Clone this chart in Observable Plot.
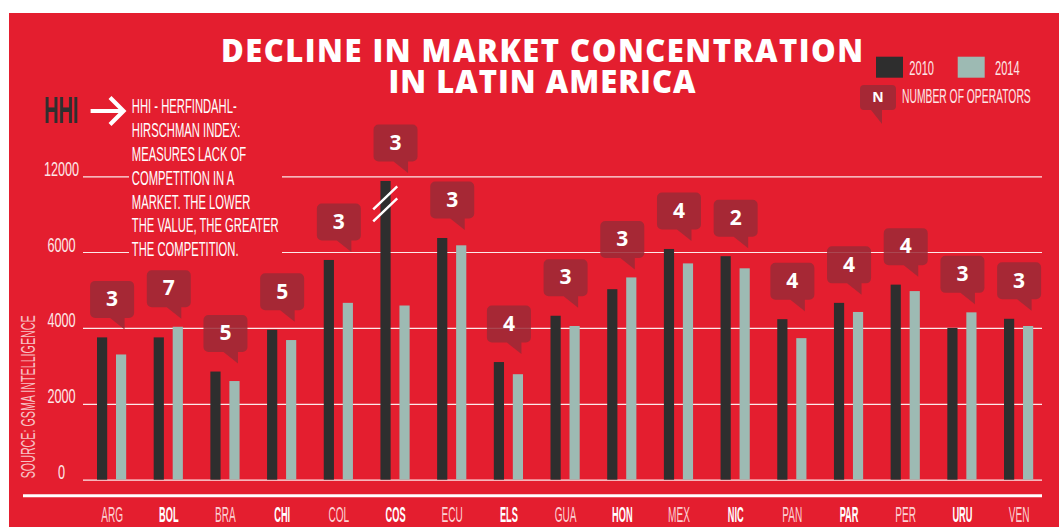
<!DOCTYPE html>
<html><head><meta charset="utf-8">
<script src="https://cdn.jsdelivr.net/npm/d3@7"></script>
<script src="https://cdn.jsdelivr.net/npm/@observablehq/plot@0.6"></script>
<style>
body{margin:0;background:#fff;}
#wrap{position:relative;width:1059px;height:527px;overflow:hidden;}
#bg{position:absolute;left:9px;top:13px;right:0;bottom:0;background:#e41e2f;}
#chart,#over{position:absolute;left:0;top:0;}
#over{pointer-events:none;}
</style></head><body>
<div id="wrap"><div id="bg"></div><div id="chart"></div><svg id="over" width="1059" height="527"></svg></div>
<script>
// ---- data ----
const countries = ["ARG","BOL","BRA","CHI","COL","COS","ECU","ELS","GUA","HON","MEX","NIC","PAN","PAR","PER","URU","VEN"];
const hhi2010 = [3750,3750,2850,3950,5790,11630,7110,3100,4320,5020,6240,5890,4230,4660,5140,4000,4240];
const hhi2014 = [3300,4030,2600,3680,4660,4590,6530,2780,4050,5330,5700,5570,3730,4420,4970,4410,4050];
const operators = [3,7,5,5,3,3,3,4,3,3,4,2,4,4,4,3,3];
const years = ["2010","2014"];
const yTicks = [0,2000,4000,6000,12000];
const brokenBars = ["COS"];
const titleLines = ["DECLINE IN MARKET CONCENTRATION","IN LATIN AMERICA"];
const noteLines = ["HHI - HERFINDAHL-","HIRSCHMAN INDEX:","MEASURES LACK OF","COMPETITION IN A","MARKET. THE LOWER","THE VALUE, THE GREATER","THE COMPETITION."];
const axisName = "HHI";
const legendOperators = "NUMBER OF OPERATORS";
const sourceText = "SOURCE: GSMA INTELLIGENCE";

// ---- styles ----
const BG = "#e41e2f", DARK = "#2e2e2e", LIGHT = "#9dbab3", CALL = "#9b2a36";
const COND = "'Liberation Sans', Arial, sans-serif";
const BOLDF = "'Open Sans', 'Noto Sans', sans-serif";

const rows = countries.flatMap((c, i) => [
  {country: c, year: years[0], value: hhi2010[i]},
  {country: c, year: years[1], value: hhi2014[i]}
]);
const summary = countries.map((c, i) => ({country: c, max: Math.max(hhi2010[i], hhi2014[i]), n: operators[i]}));

const calloutSymbol = {draw(ctx) {
  const r = 5, L = -22, R = 22, T = -57, B = -20;
  ctx.moveTo(L + r, T); ctx.lineTo(R - r, T); ctx.arcTo(R, T, R, T + r, r);
  ctx.lineTo(R, B - r); ctx.arcTo(R, B, R - r, B, r);
  ctx.lineTo(12.5, B); ctx.lineTo(12.5, -8.5); ctx.lineTo(-2, B);
  ctx.lineTo(L + r, B); ctx.arcTo(L, B, L, B - r, r);
  ctx.lineTo(L, T + r); ctx.arcTo(L, T, L + r, T, r); ctx.closePath();
}};
const breakSymbol = {draw(ctx) {
  for (const oy of [-6, 6]) { ctx.moveTo(12, -11.5 + oy); ctx.lineTo(-12, 11.5 + oy); }
}};

const chart = Plot.plot({
  width: 1059, height: 527,
  marginLeft: 83, marginRight: 17, marginTop: 0, marginBottom: 47,
  style: {background: "transparent", overflow: "visible"},
  x: {type: "band", domain: countries, range: [83.25, 1046.95], padding: 0, round: false, axis: null},
  y: {type: "linear", domain: [0, 6000, 12000], range: [479.7, 252, 176.3], axis: null},
  marks: [
    Plot.ruleY(yTicks, {y: d => d, stroke: "white", strokeWidth: 1.2, strokeOpacity: 0.9}),
    Plot.barY(rows.filter(d => d.year === years[0]), {x: "country", y: "value", fill: DARK, insetLeft: 13.75, insetRight: 32.75}),
    Plot.barY(rows.filter(d => d.year === years[1]), {x: "country", y: "value", fill: LIGHT, insetLeft: 32.75, insetRight: 13.75}),
    Plot.dot(rows.filter(d => d.year === years[0] && brokenBars.includes(d.country)), {x: "country", y: "value", symbol: breakSymbol, fill: "none", stroke: "white", strokeWidth: 2.5, dx: -10.3, dy: 22.5}),
    Plot.dot(summary, {x: "country", y: "max", symbol: calloutSymbol, fill: CALL, fillOpacity: 0.85, stroke: "none"}),
    Plot.text(summary, {x: "country", y: "max", text: d => String(d.n), dy: -38.5, fill: "white", fontWeight: 700, fontSize: 21, fontFamily: BOLDF}),
    Plot.text(yTicks, {y: d => d, text: d => String(d), frameAnchor: "left", dx: -22, dy: -1, textAnchor: "middle", lineAnchor: "bottom", fill: "#fde6e7", fontSize: 19.5, fontFamily: COND}),
    Plot.text(countries.filter((_, i) => i % 2 === 0), {x: d => d, text: d => d, frameAnchor: "bottom", dy: 41, lineAnchor: "bottom", fill: "#fbcfd2", fontSize: 21.5, fontFamily: COND}),
    Plot.text(countries.filter((_, i) => i % 2 === 1), {x: d => d, text: d => d, frameAnchor: "bottom", dy: 41, lineAnchor: "bottom", fill: "white", fontWeight: 700, fontSize: 21.5, fontFamily: COND})
  ]
});
document.getElementById("chart").appendChild(chart);

// condense the narrow-font labels horizontally
function condenseEl(el, k) {
  const t = el.getAttribute("transform");
  if (t) el.setAttribute("transform", `${t} scale(${k},1)`);
  else {
    const x = +el.getAttribute("x") || 0, y = el.getAttribute("y");
    el.removeAttribute("x");
    if (y !== null && !/em$/.test(y)) { el.removeAttribute("y"); el.setAttribute("transform", `translate(${x},${+y}) scale(${k},1)`); }
    else el.setAttribute("transform", `translate(${x},0) scale(${k},1)`);
  }
}
const tickStrings = yTicks.map(String);
chart.querySelectorAll("text").forEach(el => {
  const s = el.textContent;
  if (countries.includes(s)) condenseEl(el, countries.indexOf(s) % 2 ? 0.43 : 0.47);
  else if (tickStrings.includes(s)) condenseEl(el, 0.65);
});

// ---- overlay: title, legend, note, source ----
const over = d3.select("#over");
function cond(x, y, text, size, k, opts = {}) {
  return over.append("text")
    .attr("transform", `translate(${x},${y})${opts.rotate ? ` rotate(${opts.rotate})` : ""} scale(${k},1)`)
    .attr("font-family", COND).attr("font-size", size).attr("font-weight", opts.weight || 400)
    .attr("fill", opts.fill || "white").attr("text-anchor", opts.anchor || "start").text(text);
}
titleLines.forEach((t, i) => {
  over.append("text").attr("x", 542).attr("y", [61.7, 93.3][i]).attr("text-anchor", "middle")
    .attr("font-family", BOLDF).attr("font-weight", 800).attr("font-size", 31).attr("fill", "white")
    .attr("textLength", [642, 307][i]).attr("lengthAdjust", "spacing").text(t);
});
// legend
over.append("rect").attr("x", 876).attr("y", 56.7).attr("width", 27).attr("height", 21).attr("fill", DARK);
cond(909.3, 75, years[0], 21, 0.53, {fill: "#fde6e7"});
over.append("rect").attr("x", 957.7).attr("y", 56.7).attr("width", 27).attr("height", 21).attr("fill", LIGHT);
cond(995, 75, years[1], 21, 0.53, {fill: "#fde6e7"});
over.append("path").attr("d", "M864,85H892a4,4 0 0 1 4,4V106a4,4 0 0 1 -4,4H882V124L871,110H864a4,4 0 0 1 -4,-4V89a4,4 0 0 1 4,-4Z")
  .attr("fill", CALL).attr("fill-opacity", 0.85);
over.append("text").attr("x", 878).attr("y", 102.2).attr("text-anchor", "middle").attr("font-family", BOLDF)
  .attr("font-weight", 700).attr("font-size", 14).attr("fill", "white").text("N");
cond(902, 103, legendOperators, 19.5, 0.53, {fill: "#fde6e7"});
// note
over.append("rect").attr("x", 129).attr("y", 93).attr("width", 153).attr("height", 170).attr("fill", BG);
noteLines.forEach((t, i) => cond(131.8, 113.3 + i * 23.8, t, 21, 0.536));
cond(44, 123.3, axisName, 37, 0.54, {weight: 700, fill: "#2f2f2f"});
over.append("path").attr("d", "M90.6,111H122M110,97.5L123.5,111L110,124.5").attr("fill", "none")
  .attr("stroke", "white").attr("stroke-width", 4.2);
// source
cond(35, 478.3, sourceText, 21, 0.51, {rotate: -90, fill: "#f7c0c4"});
// baseline
over.append("line").attr("x1", 23).attr("x2", 1042).attr("y1", 495.7).attr("y2", 495.7)
  .attr("stroke", "white").attr("stroke-width", 3);
</script>
</body></html>
